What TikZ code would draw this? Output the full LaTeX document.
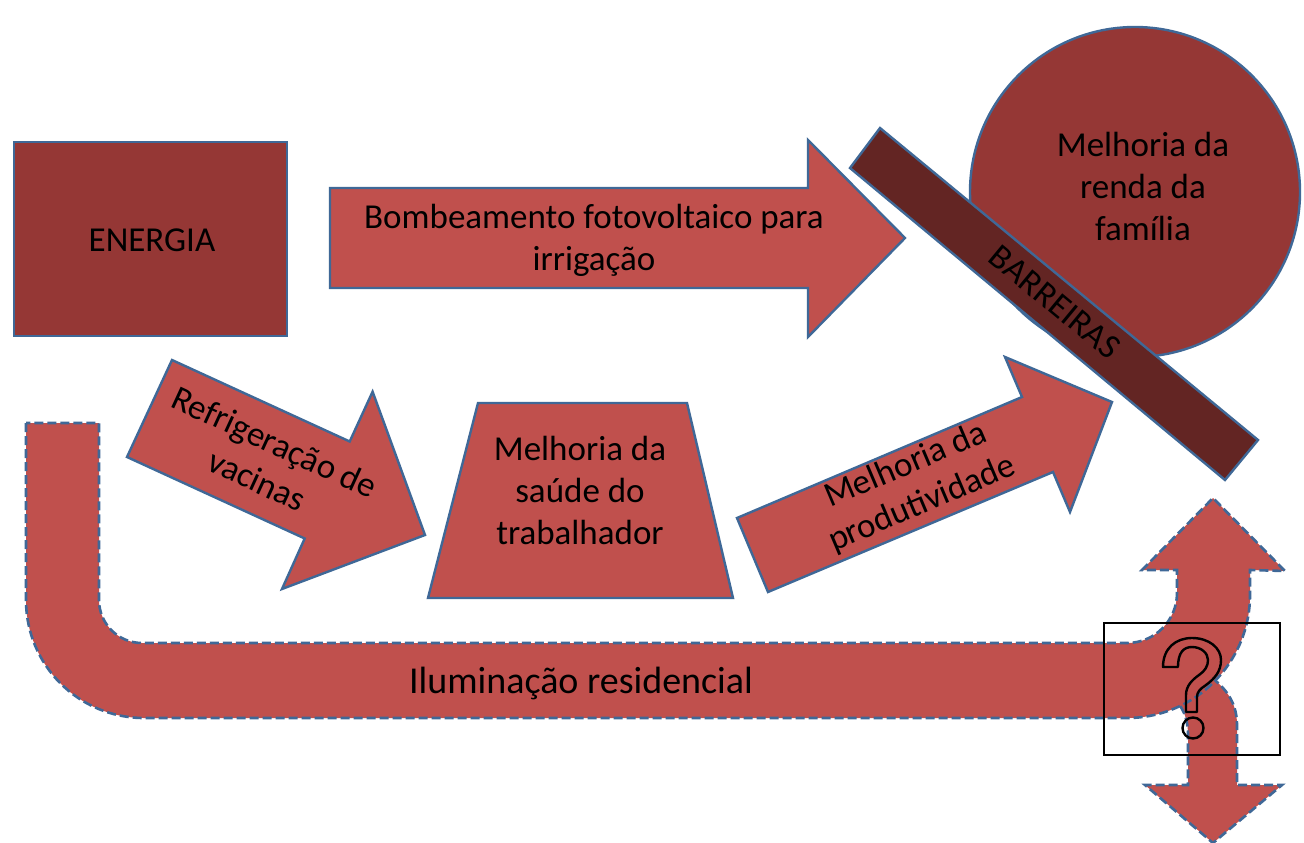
\documentclass[tikz,border=0pt]{standalone}
\usepackage{fontspec}
\setmainfont{Carlito}
\definecolor{lightred}{HTML}{C0504D}
\definecolor{midred}{HTML}{953735}
\definecolor{darkred}{HTML}{632523}
\definecolor{outline}{HTML}{3F6897}
\tikzset{
  shapeline/.style={draw=outline, line width=2.4pt, line join=miter},
  dashline/.style={draw=outline, line width=2.6pt, dash pattern=on 9pt off 4pt},
  lbl/.style={font=\fontsize{35}{42}\selectfont, align=center, text=black, inner sep=0pt},
}
\begin{document}
\begin{tikzpicture}[x=1pt,y=-1pt]
\useasboundingbox (0,0) rectangle (1304,843);
\fill[white] (0,0) rectangle (1304,843);

% ENERGIA box
\draw[shapeline, fill=midred] (14,142) rectangle (287,336);
\node[lbl] (energia) at (152,240) {ENERGIA};

% Bombeamento arrow
\draw[shapeline, fill=lightred] (330,188) -- (808,188) -- (808,140) -- (905,238) -- (808,337) -- (808,288) -- (330,288) -- cycle;
\node[lbl] (bomb) at (594,240) {Bombeamento fotovoltaico para\\irrigação};

% circle
\draw[shapeline, fill=midred] (1135,192) circle (165);
\node[lbl] (renda) at (1143,186) {Melhoria da\\renda da\\família};

% barrier bar
\draw[shapeline, fill=darkred] (850,168) -- (880,128) -- (1258,440) -- (1225,480) -- cycle;
\node[lbl, rotate=-39.6] (barr) at (1055,302) {BARREIRAS};

% Refrigeração arrow
\draw[shapeline, fill=lightred] (172,360) -- (349.7,441.5) -- (372.6,391.7) -- (425,535) -- (282,589) -- (304.7,538.5) -- (127,457) -- cycle;
\node[lbl, rotate=-24.7] (refrig) at (266,461) {Refrigeração de\\vacinas};

% trapezoid
\draw[shapeline, fill=lightred] (478,403) -- (687,403) -- (733,598) -- (428,598) -- cycle;
\node[lbl] (saude) at (580,490) {Melhoria da\\saúde do\\trabalhador};

% produtividade arrow
\draw[shapeline, fill=lightred] (737,518) -- (1022,397) -- (1005,357) -- (1112,402) -- (1070,512) -- (1053,472) -- (768,592) -- cycle;
\node[lbl, rotate=23] (prod) at (914,485) {Melhoria da\\produtividade};

% down branch (under main U)
\draw[dashline, fill=lightred] (1160,690) .. controls (1178,698) and (1188,712) .. (1188,735) -- (1188,785) -- (1145,785) -- (1213,843) -- (1282,785) -- (1237,785) -- (1237,725) .. controls (1237,705) and (1228,690) .. (1212,678) -- (1190,660) -- cycle;

% main U-turn arrow
\draw[dashline, fill=lightred] (26,423) -- (26,600) .. controls (26,665.2) and (78.8,718) .. (144,718) -- (1127,718) .. controls (1194.9,718) and (1250,662.9) .. (1250,595) -- (1250,570) -- (1285,571) -- (1213,498) -- (1142,570) -- (1177,570) -- (1177,593) .. controls (1177,620.6) and (1154.6,643) .. (1127,643) -- (142,643) .. controls (118.3,643) and (99,623.7) .. (99,600) -- (99,423) -- cycle;
\node[lbl, font=\fontsize{38}{42}\selectfont] (ilum) at (581,683) {Iluminação residencial};

% question box
\draw[black, line width=2.2pt] (1104,623) rectangle (1280,755);
\draw[black, line width=2.4pt, line join=round] (1163,667) .. controls (1163,648) and (1176,638) .. (1192,638)
  .. controls (1209,638) and (1221,648) .. (1221,660)
  .. controls (1221,672) and (1214,679) .. (1206,685)
  .. controls (1200,689) and (1197,692) .. (1197,697)
  -- (1197,712) -- (1186,712) -- (1186,695)
  .. controls (1186,686) and (1192,680) .. (1199,675)
  .. controls (1205,671) and (1208,666) .. (1208,660)
  .. controls (1208,653) and (1201,647) .. (1192,647)
  .. controls (1184,647) and (1178,652) .. (1178,667) -- cycle;
\draw[black, line width=2.4pt] (1193,728) circle (10.5);
\node[inner sep=0pt] (qbox) at (1192,689) {};
\end{tikzpicture}
\end{document}
